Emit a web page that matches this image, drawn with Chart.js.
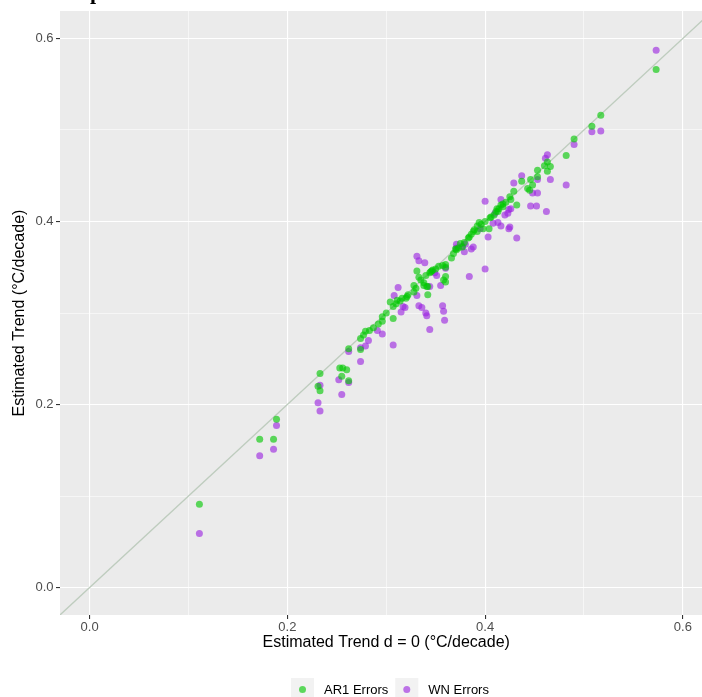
<!DOCTYPE html>
<html><head><meta charset="utf-8">
<script src="https://cdn.jsdelivr.net/npm/chart.js@4.4.1/dist/chart.umd.min.js"></script>
<style>
html,body{margin:0;padding:0;background:#fff;overflow:hidden;width:702px;height:697px}
#wrap{width:716px;height:697px}
</style></head>
<body><div id="wrap"><canvas id="c" width="716" height="697"></canvas></div>
<script>
// ---- data ----
const seriesNames = ['AR1 Errors', 'WN Errors'];
const ar1X = [0.573,0.517,0.508,0.490,0.482,0.463,0.460,0.466,0.463,0.453,0.453,0.446,0.448,0.445,0.437,0.429,0.426,0.432,0.421,0.418,0.416,0.412,0.413,0.409,0.405,0.400,0.398,0.404,0.389,0.388,0.384,0.383,0.377,0.371,0.368,0.373,0.360,0.353,0.357,0.360,0.347,0.344,0.340,0.338,0.331,0.333,0.360,0.358,0.360,0.342,0.342,0.330,0.328,0.321,0.314,0.311,0.304,0.307,0.307,0.296,0.296,0.292,0.287,0.283,0.279,0.277,0.274,0.274,0.262,0.253,0.256,0.260,0.255,0.262,0.233,0.231,0.233,0.189,0.172,0.186,0.111,0.346,0.341,0.320,0.392,0.379,0.394,0.406,0.411,0.425,0.443,0.366,0.335,0.345,0.350,0.338,0.328,0.322,0.316,0.370,0.375,0.386,0.392,0.396,0.414,0.418,0.300,0.310];
const ar1Y = [0.566,0.516,0.504,0.490,0.472,0.465,0.461,0.460,0.455,0.456,0.449,0.446,0.440,0.434,0.444,0.433,0.424,0.418,0.421,0.419,0.418,0.414,0.411,0.407,0.404,0.400,0.392,0.392,0.391,0.389,0.383,0.382,0.372,0.369,0.365,0.371,0.353,0.351,0.352,0.350,0.347,0.344,0.341,0.333,0.346,0.339,0.340,0.336,0.334,0.329,0.320,0.327,0.323,0.318,0.313,0.314,0.312,0.294,0.307,0.296,0.291,0.288,0.284,0.281,0.280,0.276,0.272,0.260,0.261,0.240,0.240,0.238,0.231,0.226,0.234,0.220,0.215,0.184,0.162,0.162,0.091,0.346,0.329,0.316,0.395,0.377,0.399,0.405,0.411,0.427,0.436,0.360,0.336,0.345,0.348,0.330,0.330,0.320,0.316,0.370,0.376,0.386,0.389,0.397,0.414,0.416,0.300,0.310];
const wnX = [0.573,0.508,0.517,0.490,0.482,0.463,0.461,0.466,0.453,0.448,0.453,0.446,0.452,0.462,0.437,0.429,0.416,0.400,0.426,0.423,0.420,0.408,0.413,0.416,0.425,0.424,0.403,0.432,0.400,0.384,0.371,0.379,0.380,0.386,0.388,0.331,0.333,0.339,0.360,0.351,0.355,0.344,0.312,0.308,0.331,0.333,0.336,0.340,0.341,0.358,0.359,0.344,0.319,0.315,0.296,0.291,0.282,0.279,0.274,0.262,0.274,0.307,0.252,0.262,0.255,0.233,0.231,0.233,0.189,0.186,0.172,0.111,0.317,0.357,0.349,0.371,0.377,0.395,0.410,0.424];
const wnY = [0.587,0.498,0.499,0.484,0.440,0.473,0.469,0.446,0.446,0.431,0.431,0.417,0.417,0.411,0.450,0.442,0.424,0.422,0.414,0.409,0.407,0.398,0.399,0.395,0.394,0.392,0.383,0.382,0.348,0.340,0.375,0.367,0.375,0.370,0.372,0.362,0.357,0.355,0.349,0.341,0.330,0.329,0.328,0.319,0.319,0.308,0.306,0.300,0.297,0.302,0.292,0.282,0.306,0.301,0.277,0.281,0.270,0.264,0.262,0.258,0.247,0.265,0.227,0.224,0.211,0.221,0.202,0.193,0.177,0.151,0.144,0.059,0.307,0.308,0.344,0.371,0.373,0.392,0.409,0.413];
const identityLine = [-0.03, 0.63];
const axisRange = [-0.03, 0.63];
const majorTicks = [0, 0.2, 0.4, 0.6];
const minorTicks = [0.1, 0.3, 0.5];
const xTitle = 'Estimated Trend d = 0 (°C/decade)';
const yTitle = 'Estimated Trend (°C/decade)';

// ---- styling ----
const FONT = "'Liberation Sans', Arial, sans-serif";
const colAR1 = 'rgba(0,200,0,0.62)';
const colWN = 'rgba(155,35,225,0.62)';
const allTicks = majorTicks.concat(minorTicks).sort((a, b) => a - b);
const isMajor = v => majorTicks.some(m => Math.abs(m - v) < 1e-9);

function scaleOpts(title, isY) {
  return {
    type: 'linear',
    min: axisRange[0], max: axisRange[1],
    afterBuildTicks: s => { s.ticks = allTicks.map(v => ({ value: v })); },
    afterFit: s => { if (isY) s.width = 60; else s.height = 50; },
    grid: {
      color: '#FFFFFF',
      lineWidth: c => (c.tick && isMajor(c.tick.value)) ? 1.1 : 0.55,
      tickColor: c => (c.tick && isMajor(c.tick.value)) ? '#333333' : 'rgba(0,0,0,0)',
      tickWidth: 1.1,
      tickLength: 4,
      drawTicks: true
    },
    border: { display: false },
    ticks: {
      autoSkip: false, maxRotation: 0, minRotation: 0,
      callback: v => isMajor(v) ? v.toFixed(1) : '',
      color: '#4D4D4D',
      font: { family: FONT, size: 13 },
      padding: isY ? 2.5 : 1
    },
    title: {
      display: true, text: title, color: '#000000',
      font: { family: FONT, size: 16 },
      padding: isY ? { top: 10.4, bottom: 0 } : { top: 0, bottom: 12.4 }
    }
  };
}

const panelBg = {
  id: 'panelBg',
  beforeDraw(chart) {
    const { ctx, chartArea: a } = chart;
    ctx.save();
    ctx.fillStyle = '#FFFFFF';
    ctx.fillRect(0, 0, chart.width, chart.height);
    ctx.fillStyle = '#EBEBEB';
    ctx.fillRect(a.left, a.top, a.right - a.left, a.bottom - a.top);
    ctx.restore();
  }
};

const ggLegend = {
  id: 'ggLegend',
  afterDraw(chart) {
    const ctx = chart.ctx;
    ctx.save();
    ctx.font = '13px ' + FONT;
    const key = 23, top = 678;
    let x = 291;
    const cols = [colAR1, colWN];
    seriesNames.forEach((name, i) => {
      ctx.fillStyle = '#F2F2F2';
      ctx.fillRect(x, top, key, key);
      ctx.beginPath();
      ctx.arc(x + key / 2, top + key / 2, 3.5, 0, Math.PI * 2);
      ctx.fillStyle = cols[i];
      ctx.fill();
      ctx.fillStyle = '#000000';
      ctx.textBaseline = 'middle';
      ctx.textAlign = 'left';
      ctx.fillText(name, x + key + 10, top + key / 2 + 1);
      x += key + 10 + ctx.measureText(name).width + 7;
    });
    // clipped heading glyph at the very top of the picture
    ctx.font = "bold 22px 'Liberation Serif', serif";
    ctx.textBaseline = 'alphabetic';
    ctx.fillText('p', 90, -1);
    ctx.restore();
  }
};

new Chart(document.getElementById('c'), {
  type: 'scatter',
  data: {
    datasets: [
      {
        label: seriesNames[0],
        data: ar1X.map((x, i) => ({ x: x, y: ar1Y[i] })),
        backgroundColor: colAR1, borderWidth: 0,
        pointRadius: 3.5, pointHoverRadius: 3.5
      },
      {
        label: seriesNames[1],
        data: wnX.map((x, i) => ({ x: x, y: wnY[i] })),
        backgroundColor: colWN, borderWidth: 0,
        pointRadius: 3.5, pointHoverRadius: 3.5
      },
      {
        label: 'identity',
        type: 'line',
        data: identityLine.map(v => ({ x: v, y: v })),
        borderColor: '#BECCBE', borderWidth: 1.3,
        pointRadius: 0, showLine: true, fill: false
      }
    ]
  },
  options: {
    responsive: false, animation: false, devicePixelRatio: 1,
    layout: { padding: { left: 0, top: 11, right: 3, bottom: 32 } },
    plugins: { legend: { display: false }, tooltip: { enabled: false } },
    scales: { x: scaleOpts(xTitle, false), y: scaleOpts(yTitle, true) }
  },
  plugins: [panelBg, ggLegend]
});
</script>
</body></html>
